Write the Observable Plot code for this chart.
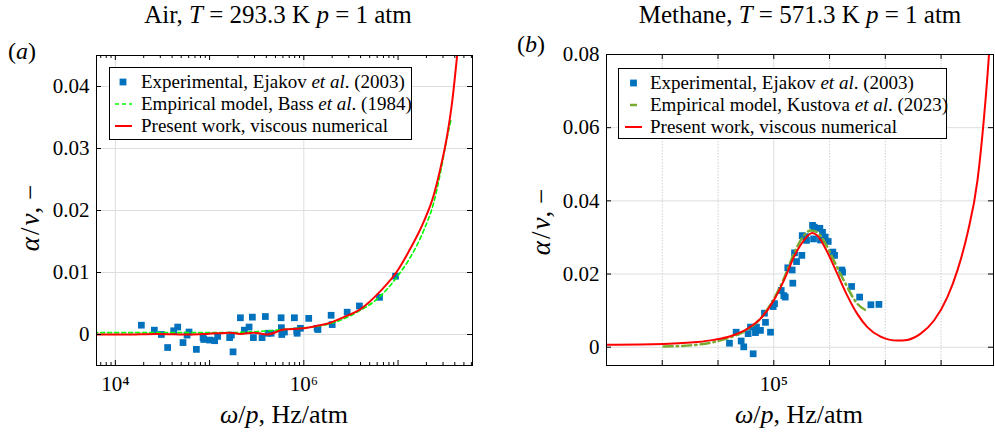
<!DOCTYPE html>
<html><head><meta charset="utf-8">
<script src="https://cdn.jsdelivr.net/npm/d3@7"></script>
<script src="https://cdn.jsdelivr.net/npm/@observablehq/plot@0.6"></script>
<style>
body{margin:0;background:#fff;}
#fig{position:relative;width:995px;height:432px;overflow:hidden;font-family:"Liberation Serif","Times New Roman",serif;color:#000;background:#fff;}
.abs{position:absolute;white-space:nowrap;line-height:1;}
.title{font-size:25px;transform:translateX(-50%);}
.xlab{font-size:26px;transform:translateX(-50%);}
.ylab{font-size:27px;transform:translate(-50%,-50%) rotate(-90deg);}
.sl{margin:0 2px;}
.tag{font-size:24px;}
.legend{position:absolute;box-sizing:border-box;border:1px solid #000;background:#fff;padding-top:3px;font-size:19px;}
.row{display:flex;align-items:center;height:22px;white-space:nowrap;}
.row svg{flex:none;}
</style>
</head><body>
<div id="fig"></div>
<script>
// ---------- DATA (x values stored as log10 of ω/p in Hz/atm) ----------
// Panel (a): Air
const airExpLogF = [4.276,4.414,4.488,4.555,4.619,4.662,4.718,4.761,4.782,4.860,4.931,4.938,5.001,5.054,5.086,5.213,5.231,5.249,5.327,5.369,5.419,5.454,5.465,5.557,5.592,5.621,5.653,5.759,5.762,5.766,5.794,5.900,5.929,5.925,5.964,6.052,6.141,6.150,6.290,6.301,6.460,6.590,6.803,6.973];
const airExpVal  = [0.0015,0.0007,0.0000,-0.0021,0.0006,0.0012,-0.0013,-0.0001,0.0004,-0.0024,-0.0005,-0.0008,-0.0009,-0.0010,-0.0003,-0.0005,-0.0001,-0.0028,0.0027,0.0007,0.0012,0.0028,-0.0005,-0.0005,0.0029,0.0002,0.0002,0.0027,0.0011,0.0000,0.0004,0.0027,0.0002,0.0006,0.0010,0.0026,0.0010,0.0008,0.0031,0.0016,0.0036,0.0046,0.0060,0.0094];
const airBassLogF = [3.77,4.442,5.150,5.858,6.211,6.566,6.813,6.990,7.132,7.273,7.379,7.450,7.503,7.564];
const airBassVal  = [0.0003,0.0003,0.0003,0.0009,0.0015,0.0036,0.0062,0.0093,0.0125,0.0168,0.0213,0.0261,0.0304,0.0348];
const airNumLogF = [3.78,4.088,4.442,4.796,4.973,5.221,5.327,5.468,5.610,5.787,6.0,6.141,6.282,6.424,6.601,6.813,6.990,7.132,7.273,7.379,7.450,7.521,7.574,7.627,7.66];
const airNumVal  = [0.0000,0.0000,0.0001,0.0000,0.0001,0.0003,0.0001,0.0003,0.0000,0.0008,0.0010,0.0014,0.0019,0.0028,0.0041,0.0070,0.0102,0.0139,0.0182,0.0225,0.0268,0.0321,0.0375,0.0450,0.0500];
const airYTicks = [0,0.01,0.02,0.03,0.04];
const airXLabels = [1e4,1e6];

// Panel (b): Methane
const ch4ExpLogF = [4.205,4.325,4.415,4.461,4.540,4.582,4.630,4.671,4.689,4.761,4.833,4.851,4.941,4.989,5.013,5.133,5.180,5.205,5.251,5.330,5.341,5.372,5.408,5.503,5.510,5.569,5.587,5.695,5.713,5.725,5.826,5.838,5.874,5.922,5.976,6.059,6.090,6.221,6.233,6.395,6.539,6.741,6.885];
const ch4ExpVal  = [0.0011,0.0041,0.0017,0.0001,0.0037,0.0055,-0.0018,0.0040,0.0055,0.0046,0.0093,0.0068,0.0041,0.0111,0.0119,0.0155,0.0141,0.0137,0.0217,0.0211,0.0175,0.0258,0.0234,0.0251,0.0305,0.0302,0.0292,0.0333,0.0296,0.0328,0.0325,0.0293,0.0314,0.0301,0.0289,0.0260,0.0251,0.0211,0.0205,0.0166,0.0137,0.0116,0.0117];
const ch4KusLogF = [3.025,3.504,3.923,4.223,4.522,4.761,5.0,5.180,5.359,5.510,5.659,5.779,5.928,6.077,6.257,6.497,6.688];
const ch4KusVal  = [0.0002,0.0005,0.0014,0.0027,0.0048,0.0078,0.0132,0.0187,0.0255,0.0299,0.0319,0.0314,0.0283,0.0237,0.0182,0.0119,0.0098];
const ch4NumLogF = [2.0,3.025,3.625,3.923,4.223,4.522,4.761,5.0,5.180,5.359,5.539,5.689,5.779,5.959,6.138,6.318,6.497,6.677,6.916,7.215,7.395,7.634,7.873,8.113,8.293,8.472,8.652,8.770,8.860,8.90];
const ch4NumVal  = [0.0007,0.0009,0.0014,0.0020,0.0030,0.0050,0.0078,0.0128,0.0182,0.0246,0.0292,0.0312,0.0305,0.0260,0.0201,0.0141,0.0091,0.0055,0.0029,0.0018,0.0020,0.0037,0.0073,0.0137,0.0210,0.0310,0.0455,0.0628,0.0802,0.0900];
const ch4YTicks = [0,0.02,0.04,0.06,0.08];
const ch4XLabels = [1e5];
const ch4Decades = [1e3,1e4,1e5,1e6,1e7,1e8];

// ---------- helpers ----------
const rows = (lf, v) => lf.map((e, i) => ({f: 10 ** e, a: v[i]}));
const SUP = {"0":"⁰","1":"¹","2":"²","3":"³","4":"⁴","5":"⁵","6":"⁶","7":"⁷","8":"⁸","9":"⁹","-":"⁻"};
const supFmt = d => "10" + String(Math.round(Math.log10(d))).split("").map(c => SUP[c]).join("");
const yFmt = d => d === 0 ? "0" : d.toFixed(2);
const FONT = '"Liberation Serif","Times New Roman",serif';
const GRID = "#dedede";
const BLUE = "#0072bd";
const TICKFONT = 21;

function logTicks(lo, hi, mults) {
  const out = [];
  for (let k = Math.floor(Math.log10(lo)); k <= Math.ceil(Math.log10(hi)); k++)
    for (const m of mults) { const v = m * 10 ** k; if (v >= lo && v <= hi) out.push(v); }
  return out;
}

// ---------- Panel (a) ----------
{
  const W = 490, H = 432, ml = 96, mr = 18, mt = 55, mb = 67;
  const fw = W - ml - mr, fh = H - mt - mb;
  const xd = [10 ** 3.8, 10 ** 7.79];
  const major = logTicks(xd[0], xd[1], [1]);
  const minor = logTicks(xd[0], xd[1], [2,3,4,5,6,7,8,9]);
  const p = Plot.plot({
    width: W, height: H, marginLeft: ml, marginRight: mr, marginTop: mt, marginBottom: mb,
    x: {type: "log", domain: xd},
    y: {domain: [-0.005, 0.045]},
    style: {fontFamily: FONT, fontSize: "20px", background: "transparent", color: "#000"},
    marks: [
      Plot.gridY(airYTicks, {y: d => d, stroke: GRID, strokeOpacity: 1}),
      Plot.gridX(airXLabels, {x: d => d, stroke: GRID, strokeOpacity: 1}),
      Plot.dot(rows(airExpLogF, airExpVal), {x: "f", y: "a", symbol: "square", r: 3.8, fill: BLUE}),
      Plot.line(rows(airBassLogF, airBassVal), {x: "f", y: "a", stroke: "#00ff00", strokeWidth: 1.6, strokeDasharray: "4,3", curve: "monotone-x", clip: true}),
      Plot.line(rows(airNumLogF, airNumVal), {x: "f", y: "a", stroke: "#ff0000", strokeWidth: 2, curve: "monotone-x", clip: true}),
      Plot.frame({stroke: "#000"}),
      Plot.tickX(major, {x: d => d, insetTop: fh - 5}),
      Plot.tickX(major, {x: d => d, insetBottom: fh - 5}),
      Plot.tickX(minor, {x: d => d, insetTop: fh - 3}),
      Plot.tickX(minor, {x: d => d, insetBottom: fh - 3}),
      Plot.tickY(airYTicks, {y: d => d, insetRight: fw - 5}),
      Plot.tickY(airYTicks, {y: d => d, insetLeft: fw - 5}),
      Plot.axisX(airXLabels, {tickSize: 0, tickPadding: 11, tickFormat: supFmt, label: null, fontSize: TICKFONT, fontFamily: FONT}),
      Plot.axisY(airYTicks, {tickSize: 0, tickPadding: 7, tickFormat: yFmt, label: null, fontSize: TICKFONT, fontFamily: FONT})
    ]
  });
  const d = document.createElement("div"); d.className = "abs"; d.style.left = "0px"; d.style.top = "0px";
  d.appendChild(p); document.getElementById("fig").appendChild(d);
}

// ---------- Panel (b) ----------
{
  const W = 495, H = 432, ml = 106, mr = 2, mt = 54, mb = 67;
  const fw = W - ml - mr, fh = H - mt - mb;
  const xd = [1e2, 10 ** 8.94];
  const p = Plot.plot({
    width: W, height: H, marginLeft: ml, marginRight: mr, marginTop: mt, marginBottom: mb,
    x: {type: "log", domain: xd},
    y: {domain: [-0.005, 0.08]},
    style: {fontFamily: FONT, fontSize: "20px", background: "transparent", color: "#000"},
    marks: [
      Plot.gridY(ch4YTicks, {y: d => d, stroke: GRID, strokeOpacity: 1}),
      Plot.gridX(ch4Decades.filter(v => !ch4XLabels.includes(v)), {x: d => d, stroke: "#d0d0d0", strokeOpacity: 1, strokeDasharray: "1.5,1.5"}),
      Plot.gridX(ch4XLabels, {x: d => d, stroke: GRID, strokeOpacity: 1}),
      Plot.dot(rows(ch4ExpLogF, ch4ExpVal), {x: "f", y: "a", symbol: "square", r: 3.8, fill: BLUE}),
      Plot.line(rows(ch4KusLogF, ch4KusVal), {x: "f", y: "a", stroke: "#77ac30", strokeWidth: 2.5, strokeDasharray: "9,4,1.5,4", curve: "monotone-x", clip: true}),
      Plot.line(rows(ch4NumLogF, ch4NumVal), {x: "f", y: "a", stroke: "#ff0000", strokeWidth: 2, curve: "monotone-x", clip: true}),
      Plot.frame({stroke: "#000"}),
      Plot.tickX(ch4Decades, {x: d => d, insetTop: fh - 5}),
      Plot.tickX(ch4Decades, {x: d => d, insetBottom: fh - 5}),
      Plot.tickY(ch4YTicks, {y: d => d, insetRight: fw - 5}),
      Plot.tickY(ch4YTicks, {y: d => d, insetLeft: fw - 5}),
      Plot.axisX(ch4XLabels, {tickSize: 0, tickPadding: 11, tickFormat: supFmt, label: null, fontSize: TICKFONT, fontFamily: FONT}),
      Plot.axisY(ch4YTicks, {tickSize: 0, tickPadding: 7, tickFormat: yFmt, label: null, fontSize: TICKFONT, fontFamily: FONT})
    ]
  });
  const d = document.createElement("div"); d.className = "abs"; d.style.left = "500px"; d.style.top = "0px";
  d.appendChild(p); document.getElementById("fig").appendChild(d);
}

// ---------- Text & legends ----------
const fig = document.getElementById("fig");
function addHTML(html) { fig.insertAdjacentHTML("beforeend", html); }
addHTML('<div class="abs title" style="left:278px;top:2px">Air, <i>T</i> = 293.3 K <i>p</i> = 1 atm</div>');
addHTML('<div class="abs title" style="left:800px;top:2px">Methane, <i>T</i> = 571.3 K <i>p</i> = 1 atm</div>');
addHTML('<div class="abs tag" style="left:8px;top:39px">(<i>a</i>)</div>');
addHTML('<div class="abs tag" style="left:517px;top:32px">(<i>b</i>)</div>');
addHTML('<div class="abs xlab" style="left:284px;top:402px"><i>ω</i>/<i>p</i>, Hz/atm</div>');
addHTML('<div class="abs xlab" style="left:799px;top:402px"><i>ω</i>/<i>p</i>, Hz/atm</div>');
addHTML('<div class="abs ylab" style="left:30px;top:218px"><i>α</i><span class="sl">/</span><i>ν</i>, −</div>');
addHTML('<div class="abs ylab" style="left:541px;top:222px"><i>α</i><span class="sl">/</span><i>ν</i>, −</div>');

const sq = (w) => `<svg width="${w}" height="22"><rect x="${w/2-3.4}" y="7.6" width="6.8" height="6.8" fill="${BLUE}"/></svg>`;
const ln = (w, x1, x2, col, sw, dash) => `<svg width="${w}" height="22"><line x1="${x1}" x2="${x2}" y1="11" y2="11" stroke="${col}" stroke-width="${sw}" ${dash ? `stroke-dasharray="${dash}"` : ""}/></svg>`;

addHTML(`<div class="legend" style="left:109px;top:67px;width:303px;height:73px">
  <div class="row">${sq(26)}<span style="margin-left:5px">Experimental, Ejakov <i>et al</i>. (2003)</span></div>
  <div class="row">${ln(26, 5, 22, "#00ff00", 1.6, "4,3")}<span style="margin-left:5px">Empirical model, Bass <i>et al</i>. (1984)</span></div>
  <div class="row">${ln(26, 5, 22, "#ff0000", 2)}<span style="margin-left:5px">Present work, viscous numerical</span></div>
</div>`);
addHTML(`<div class="legend" style="left:618px;top:68px;width:329px;height:71px">
  <div class="row">${sq(29)}<span style="margin-left:2px">Experimental, Ejakov <i>et al</i>. (2003)</span></div>
  <div class="row">${ln(29, 11, 18, "#77ac30", 2.5)}<span style="margin-left:2px">Empirical model, Kustova <i>et al</i>. (2023)</span></div>
  <div class="row">${ln(29, 6, 23, "#ff0000", 2)}<span style="margin-left:2px">Present work, viscous numerical</span></div>
</div>`);
</script>
</body></html>
